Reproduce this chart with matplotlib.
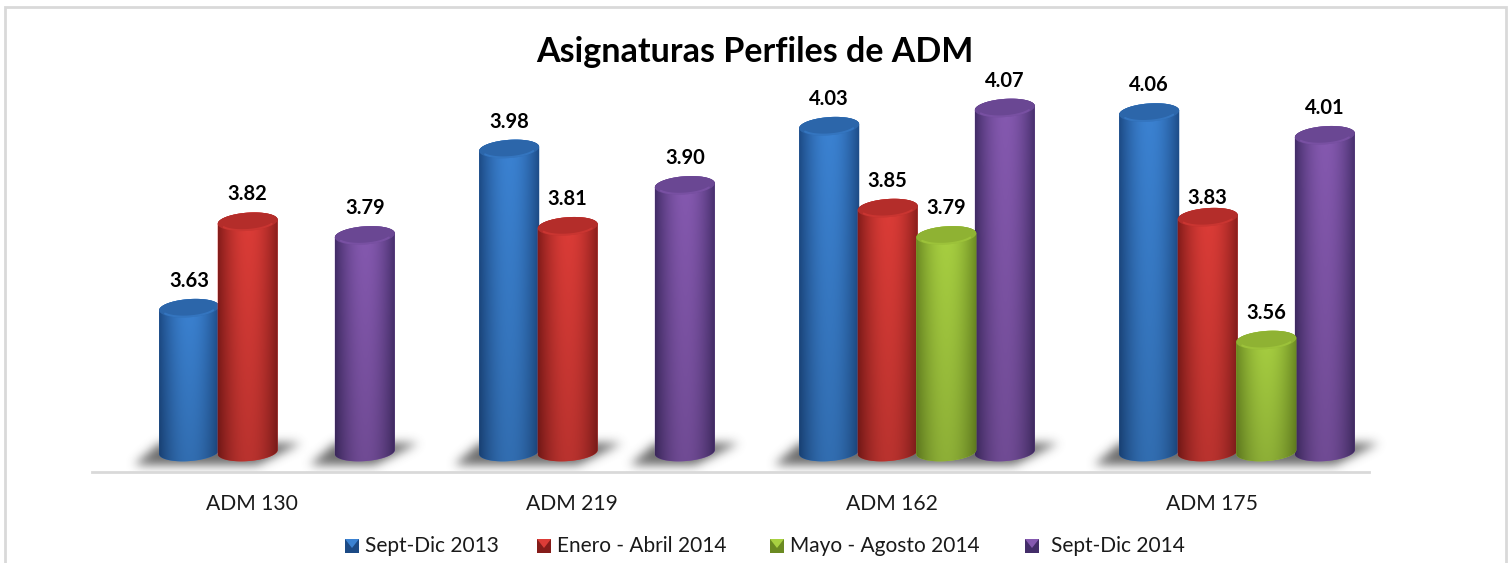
import numpy as np
import matplotlib
matplotlib.use("Agg")
import matplotlib.pyplot as plt
from matplotlib.patches import Polygon, Rectangle
from matplotlib.path import Path

plt.rcParams['font.family'] = ['Lato', 'DejaVu Sans']

categories = ["ADM 130", "ADM 219", "ADM 162", "ADM 175"]
periods = ["Sept-Dic 2013", "Enero - Abril 2014", "Mayo - Agosto 2014", "Sept-Dic 2014"]
sept_2013 = [3.63, 3.98, 4.03, 4.06]
enero_2014 = [3.82, 3.81, 3.85, 3.83]
mayo_2014 = [None, None, 3.79, 3.56]
sept_2014 = [3.79, 3.90, 4.07, 4.01]
title = "Asignaturas Perfiles de ADM"

# edge, highlight, cap
colors = [("#1c4a85", "#3b82d2", "#2c66aa"),
          ("#851c1a", "#dc3c37", "#b42d2a"),
          ("#6b8a22", "#a8d041", "#8fb233"),
          ("#432d69", "#8559b0", "#6a4793")]

W, H = 1512, 563
fig = plt.figure(figsize=(W / 100, H / 100), dpi=100)
fig.patch.set_facecolor("white")
fig.add_artist(Rectangle((5 / W, -0.05), 1501 / W, 1 + 0.05 - 7 / H, transform=fig.transFigure,
                         fill=False, ec="#d9d9d9", lw=2))

ax = fig.add_axes([92 / W, 1 - 472 / H, 1277 / W, 400 / H])
xlim = (-0.578, 3.4125)
ylim = (3.27, 3.27 + 400 / 455)
floor = 3.314
bar_w = 0.1875
step = 0.183
cap_b = 0.020
tilt = 0.0045
ax.patch.set_alpha(0)
for s in ["left", "right", "top"]:
    ax.spines[s].set_visible(False)
ax.spines["bottom"].set_color("#d9d9d9")
ax.spines["bottom"].set_linewidth(2)
ax.set_yticks([])
ax.set_xticks(np.arange(4) - 0.078)
ax.set_xticklabels(categories, fontsize=15.2, color="#1a1a1a")
ax.tick_params(axis="x", length=0, pad=16)


def ellipse_pts(x, y, scale=1.0, t0=0, t1=2 * np.pi):
    t = np.linspace(t0, t1, 60)
    px = x + scale * bar_w / 2 * np.cos(t)
    py = y + scale * (cap_b * np.sin(t) + tilt * np.cos(t))
    return np.column_stack([px, py])


def body_image(cols):
    a = np.array(matplotlib.colors.to_rgb(cols[0]))
    b = np.array(matplotlib.colors.to_rgb(cols[1]))
    u = np.linspace(0, 1, 120)
    k = (np.sin(u * np.pi) ** 0.9)[None, :, None]
    # a bit darker toward the floor
    v = np.linspace(0.84, 1.0, 100)[:, None, None]
    return (a + (b - a) * k) * v


def cylinder(x, v, cols, z):
    left = x - bar_w / 2
    front = ellipse_pts(x, floor, t0=np.pi, t1=2 * np.pi)
    back = ellipse_pts(x, v, t0=0, t1=np.pi)
    outline = Polygon(np.vstack([front, back]), closed=True, fc=cols[1], ec="none", zorder=z)
    ax.add_patch(outline)
    im = ax.imshow(body_image(cols), origin="lower", aspect="auto", zorder=z + 0.1,
                   extent=(left, left + bar_w, floor - cap_b - tilt, v + cap_b + tilt))
    im.set_clip_path(outline)
    ax.add_patch(Polygon(ellipse_pts(x, v), closed=True, fc=cols[2], ec="none", zorder=z + 0.2))
    rim = ellipse_pts(x, v, scale=0.9, t0=1.15 * np.pi, t1=1.85 * np.pi)
    ax.plot(rim[:, 0], rim[:, 1], color=cols[1], lw=1.4, alpha=0.55, zorder=z + 0.3,
            solid_capstyle="round")


def shadow_image(centres):
    # soft floor shadow, rasterised and blurred on a small grid
    x0, x1 = xlim[0], 3.55
    nx, ny = int((x1 - x0) * 320), 70
    xs = np.linspace(x0, x1, nx)
    ys = np.linspace(ylim[0], ylim[0] + 70 / 455, ny)
    gx, gy = np.meshgrid(xs, ys)
    pts = np.column_stack([gx.ravel(), gy.ravel()])
    mask = np.zeros(gx.shape)
    for c in centres:
        poly = Path([(c - 0.172, 3.285), (c + 0.03, 3.285), (c + 0.165, 3.333), (c - 0.094, 3.333)])
        mask = np.maximum(mask, poly.contains_points(pts).reshape(gx.shape).astype(float))
    kernel = np.exp(-np.arange(-15, 16) ** 2 / (2 * 5.0 ** 2))
    kernel /= kernel.sum()
    mask = np.apply_along_axis(lambda r: np.convolve(r, kernel, mode="same"), 1, mask)
    mask = np.apply_along_axis(lambda r: np.convolve(r, kernel, mode="same"), 0, mask)
    rgba = np.zeros(mask.shape + (4,))
    rgba[..., :3] = 0.27
    rgba[..., 3] = mask * 0.8
    im = ax.imshow(rgba, origin="lower", aspect="auto", zorder=1, extent=(x0, x1, ys[0], ys[-1]))
    im.set_clip_on(False)


series = [sept_2013, enero_2014, mayo_2014, sept_2014]
offsets = [-1.5, -0.5, 0.5, 1.5]
centres = [i + offsets[j] * step for i in range(4) for j in range(4) if series[j][i] is not None]
shadow_image(centres)

order = [0, 2, 3, 1]  # enero sits in front of its neighbours except the last
for i in range(4):
    for j, vals in enumerate(series):
        if vals[i] is None:
            continue
        x = i + offsets[j] * step
        cylinder(x, vals[i], colors[j], 3 + order[j] + i * 5)
        lift = 0.038 if (i, j) != (3, 1) else 0.021
        ax.text(x, vals[i] + lift, f"{vals[i]:.2f}", ha="center", va="bottom", fontsize=14.5,
                fontweight="bold", color="black", zorder=40)
ax.set_xlim(*xlim)
ax.set_ylim(*ylim)

fig.text(755 / W, 1 - 62 / H, title, ha="center", va="baseline", fontsize=24.5, fontweight="bold", color="black")

# legend placed by hand to keep the beveled squares
leg_x = [345, 537, 770, 1025]
leg_gap = [20, 20, 20, 26]
leg = fig.add_axes([0, 0, 1, 1], label="legend")
leg.set_xlim(0, W)
leg.set_ylim(H, 0)
leg.axis("off")
leg.patch.set_alpha(0)
for j, name in enumerate(periods):
    lx = leg_x[j]
    leg.add_patch(Rectangle((lx, 539), 14, 14, fc=colors[j][0], ec="none"))
    leg.add_patch(Polygon([(lx, 539), (lx + 14, 539), (lx + 7, 548)], fc=colors[j][1], ec="none"))
    leg.text(lx + leg_gap[j], 546, name, va="center", ha="left", fontsize=15, color="#1a1a1a")

fig.savefig("out.png", dpi=100)
